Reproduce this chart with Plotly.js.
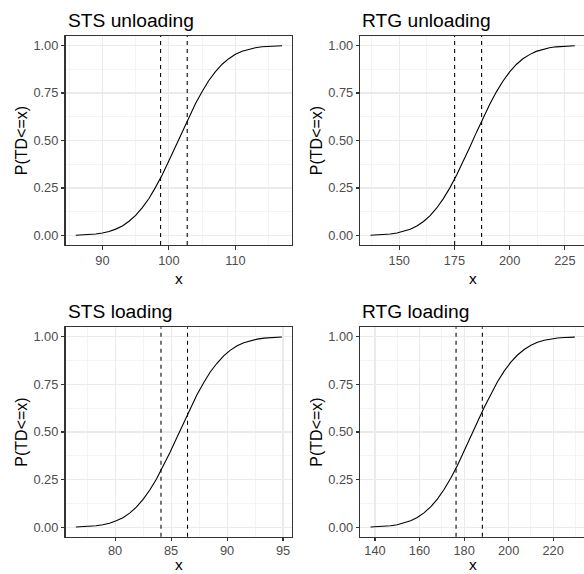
<!DOCTYPE html>
<html>
<head>
<meta charset="utf-8">
<script src="https://cdn.plot.ly/plotly-3.0.1.min.js"></script>
<style>
html,body{margin:0;padding:0;overflow:hidden;background:#fff;}
#chart{width:586px;height:574px;}
</style>
</head>
<body>
<div id="chart"></div>
<script>
// Panel titles
const panelTitles = ["STS unloading", "RTG unloading", "STS loading", "RTG loading"];
const xTitle = "x";
const yTitle = "P(TD<=x)";

// STS unloading
const stsUnloadX = [86,87,88,89,90,91,92,93,94,95,96,97,98,99,100,101,102,103,104,105,106,107,108,109,110,111,112,113,114,115,116,117];
const stsUnloadP = [0.0013,0.0025,0.0045,0.0078,0.0132,0.0212,0.0336,0.0505,0.0749,0.1056,0.1469,0.1949,0.2546,0.3192,0.3936,0.4681,0.5478,0.6217,0.6950,0.7580,0.8159,0.8621,0.9015,0.9306,0.9535,0.9693,0.9808,0.9881,0.9931,0.9960,0.9978,0.9988];
const stsUnloadV = [98.75, 102.75];
const stsUnloadTicks = [90, 100, 110];

// RTG unloading
const rtgUnloadX = [137,140,143,146,149,152,155,158,161,164,167,170,173,176,179,182,185,188,191,194,197,200,203,206,209,212,215,218,221,224,227,229.5];
const rtgUnloadP = [0.0013,0.0025,0.0044,0.0078,0.0130,0.0212,0.0330,0.0502,0.0738,0.1050,0.1450,0.1940,0.2520,0.3180,0.3900,0.4660,0.5440,0.6200,0.6910,0.7560,0.8130,0.8610,0.9000,0.9300,0.9520,0.9690,0.9800,0.9880,0.9930,0.9960,0.9980,0.9987];
const rtgUnloadV = [175.1, 187.3];
const rtgUnloadTicks = [150, 175, 200, 225];

// STS loading
const stsLoadX = [76.5,77.1,77.7,78.3,78.9,79.5,80.1,80.7,81.3,81.9,82.5,83.1,83.7,84.3,84.9,85.5,86.1,86.7,87.3,87.9,88.5,89.1,89.7,90.3,90.9,91.5,92.1,92.7,93.3,93.9,94.5,94.9];
const stsLoadP = [0.0013,0.0025,0.0045,0.0078,0.0130,0.0210,0.0340,0.0500,0.0740,0.1050,0.1460,0.1950,0.2530,0.3190,0.3920,0.4680,0.5460,0.6210,0.6940,0.7570,0.8150,0.8610,0.9000,0.9300,0.9530,0.9690,0.9800,0.9880,0.9930,0.9963,0.9980,0.9987];
const stsLoadV = [84.1, 86.47];
const stsLoadTicks = [80, 85, 90, 95];

// RTG loading
const rtgLoadX = [138,141,144,147,150,153,156,159,162,165,168,171,174,177,180,183,186,189,192,195,198,201,204,207,210,213,216,219,222,225,228,229.7];
const rtgLoadP = [0.0013,0.0025,0.0045,0.0078,0.0131,0.0214,0.0336,0.0511,0.0752,0.1071,0.1478,0.1977,0.2566,0.3235,0.3970,0.4741,0.5521,0.6282,0.6995,0.7639,0.8199,0.8667,0.9044,0.9336,0.9553,0.9710,0.9818,0.9889,0.9935,0.9963,0.9980,0.9986];
const rtgLoadV = [176.4, 188.2];
const rtgLoadTicks = [140, 160, 180, 200, 220];

// Y ticks
const yTickVals = [0, 0.25, 0.5, 0.75, 1];
const yTickText = ["0.00", "0.25", "0.50", "0.75", "1.00"];

const FONT = "Liberation Sans, Arial, sans-serif";
const W = 586, H = 574;

const panels = [
  {x: stsUnloadX, p: stsUnloadP, v: stsUnloadV, ticks: stsUnloadTicks, range: [84.45, 118.55], minor: 5,
   px: [65.5, 292.3], py: [36, 245], xt: 278, xtAnchor: "middle", tls: 0},
  {x: rtgUnloadX, p: rtgUnloadP, v: rtgUnloadV, ticks: rtgUnloadTicks, range: [132.4, 234.1], minor: 12.5,
   px: [360.3, 585], py: [36, 245], xt: 278, xtAnchor: "middle", tls: 0},
  {x: stsLoadX, p: stsLoadP, v: stsLoadV, ticks: stsLoadTicks, range: [75.57, 95.83], minor: 2.5,
   px: [65.5, 292.3], py: [327.3, 536.7], xt: 574, xtAnchor: "bottom", tls: -2},
  {x: rtgLoadX, p: rtgLoadP, v: rtgLoadV, ticks: rtgLoadTicks, range: [133.4, 234.3], minor: 10,
   px: [360.3, 585], py: [327.3, 536.7], xt: 574, xtAnchor: "bottom", tls: -2}
];

const traces = [];
const shapes = [];
const annotations = [];
const layout = {
  width: W, height: H,
  margin: {l: 0, r: 0, t: 0, b: 0},
  paper_bgcolor: "#ffffff",
  plot_bgcolor: "#ffffff",
  showlegend: false,
  font: {family: FONT, color: "#000000"}
};

const axisCommon = {
  showline: true, mirror: true, linecolor: "#333333", linewidth: 1.07,
  ticks: "outside", ticklen: 3.5, tickcolor: "#333333", tickwidth: 1.07,
  showgrid: true, gridcolor: "#EBEBEB", gridwidth: 1.07, zeroline: false,
  tickfont: {family: FONT, size: 12.8, color: "#4D4D4D"},
  fixedrange: true
};

panels.forEach((pn, i) => {
  const k = i === 0 ? "" : String(i + 1);
  const xa = "x" + k, ya = "y" + k;
  traces.push({
    type: "scatter", mode: "lines", x: pn.x, y: pn.p,
    xaxis: xa, yaxis: ya,
    line: {color: "#000000", width: 1.1},
    hoverinfo: "skip"
  });
  layout["xaxis" + k] = Object.assign({}, axisCommon, {
    domain: [pn.px[0] / W, pn.px[1] / W],
    anchor: ya, range: pn.range,
    tickmode: "array", tickvals: pn.ticks, ticktext: pn.ticks.map(String),
    ticklabelstandoff: pn.tls,
    minor: {dtick: pn.minor, showgrid: true, gridcolor: "#EBEBEB", gridwidth: 0.55, ticks: ""}
  });
  layout["yaxis" + k] = Object.assign({}, axisCommon, {
    domain: [1 - pn.py[1] / H, 1 - pn.py[0] / H],
    anchor: xa, range: [-0.05, 1.05],
    tickmode: "array", tickvals: yTickVals, ticktext: yTickText,
    minor: {dtick: 0.125, showgrid: true, gridcolor: "#EBEBEB", gridwidth: 0.55, ticks: ""},
    title: {text: yTitle, font: {family: FONT, size: 16, color: "#000000"}, standoff: 1}
  });
  pn.v.forEach(val => {
    shapes.push({
      type: "line", xref: xa, yref: ya + " domain",
      x0: val, x1: val, y0: 0, y1: 1,
      line: {color: "#000000", width: 1.07, dash: "4px,4px"}
    });
  });
  annotations.push({
    text: panelTitles[i], xref: "paper", yref: "paper",
    x: pn.px[0] / W, y: 1 - (pn.py[0] - 16) / H,
    xanchor: "left", yanchor: "middle", showarrow: false,
    font: {family: FONT, size: 19.2, color: "#000000"}
  });
  annotations.push({
    text: xTitle, xref: xa + " domain", yref: "paper",
    x: 0.5, y: 1 - pn.xt / H,
    xanchor: "center", yanchor: pn.xtAnchor, showarrow: false, borderpad: 0,
    font: {family: FONT, size: 15.5, color: "#000000"}
  });
});

layout.shapes = shapes;
layout.annotations = annotations;

Plotly.newPlot("chart", traces, layout, {displayModeBar: false, staticPlot: true});
</script>
</body>
</html>
